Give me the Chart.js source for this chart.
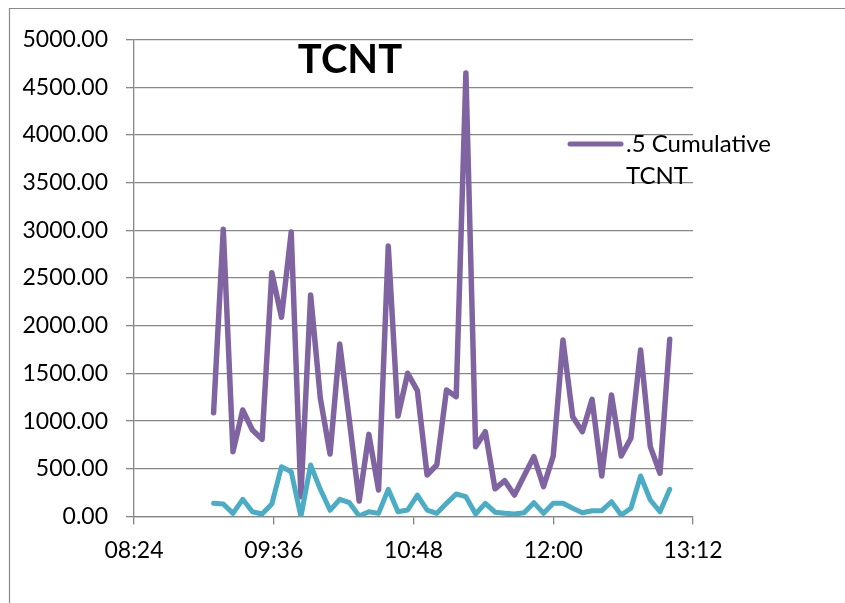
<!DOCTYPE html>
<html>
<head>
<meta charset="utf-8">
<title>TCNT</title>
<script src="https://cdn.jsdelivr.net/npm/chart.js@4.4.1/dist/chart.umd.min.js"></script>
<style>
    html, body { margin: 0; padding: 0; background: #ffffff; }
    #chartBox { position: relative; width: 845px; height: 603px; }
</style>
</head>
<body>
<div id="chartBox"><canvas id="tcntChart" width="845" height="603"></canvas></div>
<script>
// sample times (every 5 minutes)
const times = [
    '09:05', '09:10', '09:15', '09:20', '09:25', '09:30', '09:35', '09:40', '09:45', '09:50', '09:55',
    '10:00', '10:05', '10:10', '10:15', '10:20', '10:25', '10:30', '10:35', '10:40', '10:45', '10:50', '10:55',
    '11:00', '11:05', '11:10', '11:15', '11:20', '11:25', '11:30', '11:35', '11:40', '11:45', '11:50', '11:55',
    '12:00', '12:05', '12:10', '12:15', '12:20', '12:25', '12:30', '12:35', '12:40', '12:45', '12:50', '12:55',
    '13:00'
];

const cumulativeTcnt = [
    1088, 3011, 680, 1116, 907, 809, 2556, 2088, 2982, 208, 2322,
    1239, 655, 1808, 1000, 162, 861, 278, 2835, 1053, 1501, 1319,
    435, 540, 1326, 1256, 4650, 732, 889, 290, 375, 225, 428,
    627, 313, 634, 1850, 1046, 889, 1228, 425, 1274, 634, 820,
    1745, 732, 453, 1857
];

const tcnt = [
    138, 131, 33, 180, 50, 26, 131, 522, 470, 0, 540,
    285, 65, 180, 145, 5, 50, 33, 285, 50, 68, 225,
    68, 33, 138, 236, 208, 26, 138, 45, 33, 26, 40,
    145, 33, 138, 138, 86, 40, 61, 61, 155, 16, 86,
    425, 173, 50, 285
];

// x axis range and tick step, in minutes
const xMin = '08:24';
const xMax = '13:12';
const xStep = 72;

const chartTitle = 'TCNT';

function toMinutes(t) {
    const parts = t.split(':');
    return parseInt(parts[0], 10) * 60 + parseInt(parts[1], 10);
}

function toClock(m) {
    const h = Math.floor(m / 60);
    const mm = Math.round(m % 60);
    return String(h).padStart(2, '0') + ':' + String(mm).padStart(2, '0');
}

function toPoints(values) {
    return values.map((v, i) => ({ x: toMinutes(times[i]), y: v }));
}

const font = 'Lato, "Open Sans", sans-serif';
const gridGray = '#878787';

// draws the frame, the title and the one-entry legend inside the plot, like the original
const overlayPlugin = {
    id: 'overlay',
    beforeDraw(chart) {
        const ctx = chart.ctx;
        ctx.save();
        ctx.strokeStyle = '#8a8a8a';
        ctx.lineWidth = 1.2;
        ctx.beginPath();
        ctx.moveTo(9.5, chart.height);
        ctx.lineTo(9.5, 8.5);
        ctx.lineTo(chart.width, 8.5);
        ctx.stroke();
        ctx.restore();
    },
    afterDraw(chart) {
        const ctx = chart.ctx;
        const area = chart.chartArea;
        ctx.save();

        ctx.fillStyle = '#000000';
        ctx.font = 'bold 40px ' + font;
        ctx.textAlign = 'center';
        ctx.textBaseline = 'alphabetic';
        ctx.fillText(chartTitle, area.left + 216, 73);

        const ds = chart.data.datasets[0];
        ctx.strokeStyle = ds.borderColor;
        ctx.lineWidth = 5;
        ctx.lineCap = 'round';
        ctx.beginPath();
        ctx.moveTo(area.left + 436, 144);
        ctx.lineTo(area.left + 487, 144);
        ctx.stroke();

        ctx.font = '24px ' + font;
        ctx.textAlign = 'left';
        const words = ds.label.split(' ');
        ctx.fillText(words.slice(0, 2).join(' '), area.left + 492, 152);
        ctx.fillText(words.slice(2).join(' '), area.left + 492, 184);
        ctx.restore();
    }
};

new Chart(document.getElementById('tcntChart'), {
    type: 'line',
    data: {
        datasets: [
            {
                label: '.5 Cumulative TCNT',
                data: toPoints(cumulativeTcnt),
                borderColor: '#8064A2',
                borderWidth: 5.5,
                pointRadius: 0,
                tension: 0,
                borderJoinStyle: 'round',
                borderCapStyle: 'round',
                fill: false,
                order: 2
            },
            {
                label: 'TCNT',
                data: toPoints(tcnt),
                borderColor: '#4BACC6',
                borderWidth: 5,
                pointRadius: 0,
                tension: 0,
                borderJoinStyle: 'round',
                borderCapStyle: 'round',
                fill: false,
                order: 1
            }
        ]
    },
    options: {
        responsive: false,
        animation: false,
        devicePixelRatio: 1,
        layout: {
            padding: { left: 0, right: 152, top: 39.5, bottom: 0 }
        },
        scales: {
            x: {
                type: 'linear',
                min: toMinutes(xMin),
                max: toMinutes(xMax),
                afterFit: (scale) => { scale.height = 86.5; },
                ticks: {
                    stepSize: xStep,
                    color: '#000000',
                    padding: 12,
                    font: { family: font, size: 23 },
                    callback: (value) => toClock(value)
                },
                grid: {
                    drawOnChartArea: false,
                    drawTicks: true,
                    tickLength: 8,
                    color: gridGray,
                    lineWidth: 1.3
                },
                border: { color: gridGray, width: 1.3 }
            },
            y: {
                min: 0,
                max: 5000,
                afterFit: (scale) => { scale.width = 134; },
                ticks: {
                    stepSize: 500,
                    color: '#000000',
                    padding: 18,
                    font: { family: font, size: 23 },
                    callback: (value) => value.toFixed(2)
                },
                grid: {
                    color: gridGray,
                    lineWidth: 1.3,
                    tickLength: 8
                },
                border: { color: gridGray, width: 1.3 }
            }
        },
        plugins: {
            legend: { display: false },
            title: { display: false },
            tooltip: { enabled: false }
        }
    },
    plugins: [overlayPlugin]
});
</script>
</body>
</html>
